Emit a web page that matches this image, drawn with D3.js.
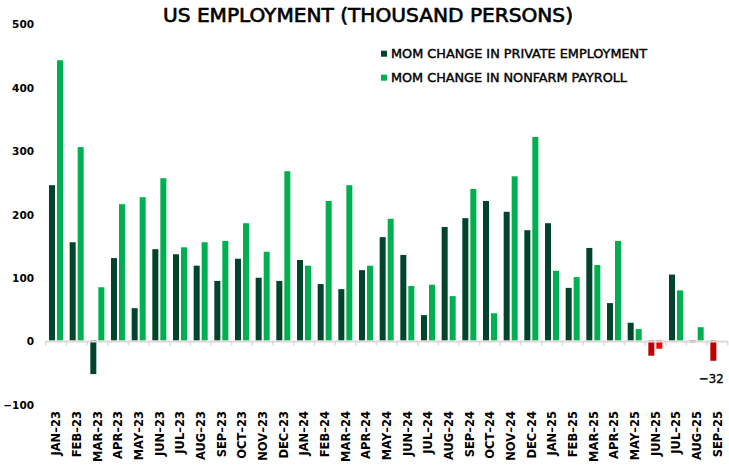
<!DOCTYPE html>
<html>
<head>
<meta charset="utf-8">
<script src="https://cdn.jsdelivr.net/npm/d3@7"></script>
<style>
  html, body { margin: 0; padding: 0; background: #fff; }
  svg { display: block; }
</style>
</head>
<body>
<svg id="chart" width="729" height="469"></svg>
<script>
// ---- data ----
const categories = [
  "JAN–23","FEB–23","MAR–23","APR–23","MAY–23","JUN–23","JUL–23","AUG–23","SEP–23","OCT–23","NOV–23","DEC–23",
  "JAN–24","FEB–24","MAR–24","APR–24","MAY–24","JUN–24","JUL–24","AUG–24","SEP–24","OCT–24","NOV–24","DEC–24",
  "JAN–25","FEB–25","MAR–25","APR–25","MAY–25","JUN–25","JUL–25","AUG–25","SEP–25"
];
const privateEmployment = [
  245, 155, -53, 130, 51, 144, 136, 118, 94, 129, 99, 94,
  127, 89, 81, 111, 163, 135, 40, 179, 193, 220, 203, 174,
  185, 83, 146, 59, 28, -24, 104, -3, -32
];
const nonfarmPayroll = [
  442, 305, 84, 215, 226, 256, 147, 155, 157, 185, 140, 267,
  118, 220, 245, 118, 192, 86, 88, 70, 239, 43, 259, 321,
  110, 100, 119, 157, 18, -13, 79, 21, null
];
const yTicks = [-100, 0, 100, 200, 300, 400, 500];
const seriesNames = ["MOM CHANGE IN PRIVATE EMPLOYMENT", "MOM CHANGE IN NONFARM PAYROLL"];
const highlightFrom = "JUN–25";   // negative values from here on are drawn in red
const annotated = { series: 0, category: "SEP–25", text: "−32" };

// ---- drawing ----
const svg = d3.select("#chart");
const handFont = "'DejaVu Sans Condensed', 'DejaVu Sans', sans-serif";
const tickFont = "'DejaVu Sans', Verdana, sans-serif";

const colors = {
  dark: "#00452B", light: "#00B050",
  darkNeg: "#C00000", lightNeg: "#FF0000",
  axis: "#D9D9D9"
};

const x0 = d3.scaleBand().domain(categories).range([45.7, 727.7]).paddingInner(0).paddingOuter(0);
const keys = ["private", "nonfarm"];
const x1 = d3.scaleBand().domain(keys).range([3.3, 17.3]).paddingInner(0.25).paddingOuter(0);
const y = d3.scaleLinear().domain([-100, 500]).range([403.9, 23.5]);

const hlIndex = categories.indexOf(highlightFrom);
const rows = categories.map((c, i) => ({
  cat: c, i,
  values: [
    { key: "private", v: privateEmployment[i] },
    { key: "nonfarm", v: nonfarmPayroll[i] }
  ]
}));

function barColor(d, i) {
  const neg = d.v < 0 && i >= hlIndex;
  if (d.key === "private") return neg ? colors.darkNeg : colors.dark;
  return neg ? colors.lightNeg : colors.light;
}

// bars
const g = svg.append("g");
rows.forEach(r => {
  g.selectAll(null)
    .data(r.values.filter(d => d.v !== null))
    .enter().append("rect")
    .attr("x", d => x0(r.cat) + x1(d.key))
    .attr("width", x1.bandwidth())
    .attr("y", d => y(Math.max(0, d.v)))
    .attr("height", d => Math.abs(y(d.v) - y(0)))
    .attr("fill", d => barColor(d, r.i));
});

// zero axis line with ticks between categories
const axisG = svg.append("g");
axisG.append("line")
  .attr("x1", x0.range()[0]).attr("x2", x0.range()[1])
  .attr("y1", y(0) + 1).attr("y2", y(0) + 1)
  .attr("stroke", colors.axis).attr("stroke-width", 2);
const boundaries = categories.map(c => x0(c)).concat([x0.range()[1]]);
axisG.selectAll("line.tk").data(boundaries).enter().append("line")
  .attr("class", "tk")
  .attr("x1", d => d).attr("x2", d => d)
  .attr("y1", y(0) + 1).attr("y2", y(0) + 5)
  .attr("stroke", colors.axis).attr("stroke-width", 1.5);

// y axis labels (no line)
const yAxis = d3.axisLeft(y).tickValues(yTicks).tickSize(0).tickPadding(0)
  .tickFormat(d => d < 0 ? "−" + Math.abs(d) : String(d));
const yG = svg.append("g").attr("transform", "translate(34,1)").call(yAxis);
yG.select(".domain").remove();
yG.selectAll("text")
  .attr("font-family", tickFont).attr("font-weight", "bold")
  .attr("font-size", 10.5).attr("fill", "#000");

// x labels rotated (read bottom-to-top, tops aligned)
const xAxis = d3.axisBottom(x0).tickSize(0).tickPadding(0);
const xG = svg.append("g").attr("transform", "translate(0,411)").call(xAxis);
xG.select(".domain").remove();
xG.selectAll("text")
  .attr("font-family", tickFont).attr("font-weight", "bold").attr("font-size", 11.5)
  .attr("fill", "#000")
  .attr("transform", "rotate(-90)")
  .attr("text-anchor", "end")
  .attr("x", 0).attr("y", 0).attr("dy", "0.36em");

// title
svg.append("text")
  .attr("x", 368).attr("y", 22)
  .attr("text-anchor", "middle")
  .attr("font-family", handFont).attr("font-size", 19.5)
  .attr("textLength", 410).attr("lengthAdjust", "spacingAndGlyphs")
  .attr("fill", "#000").attr("stroke", "#000").attr("stroke-width", 0.6)
  .text("US EMPLOYMENT (THOUSAND PERSONS)");

// legend
const legend = svg.append("g");
const legendRows = [
  { name: seriesNames[0], color: colors.dark, y: 53.7, len: 256 },
  { name: seriesNames[1], color: colors.light, y: 77.7, len: 236 }
];
legendRows.forEach(r => {
  legend.append("rect").attr("x", 381).attr("y", r.y - 3).attr("width", 6).attr("height", 6).attr("fill", r.color);
  legend.append("text").attr("x", 391).attr("y", r.y).attr("dy", "0.36em")
    .attr("font-family", handFont).attr("font-size", 11.5)
    .attr("textLength", r.len).attr("lengthAdjust", "spacingAndGlyphs")
    .attr("fill", "#000").attr("stroke", "#000").attr("stroke-width", 0.35)
    .text(r.name);
});

// annotation
const ai = categories.indexOf(annotated.category);
const av = [privateEmployment, nonfarmPayroll][annotated.series][ai];
svg.append("text")
  .attr("x", x0(annotated.category) + x1(keys[annotated.series]) + x1.bandwidth() / 2 - 2)
  .attr("y", y(av) + 22)
  .attr("text-anchor", "middle")
  .attr("font-family", handFont).attr("font-size", 13)
  .attr("fill", "#000").attr("stroke", "#000").attr("stroke-width", 0.35)
  .text(annotated.text);
</script>
</body>
</html>
